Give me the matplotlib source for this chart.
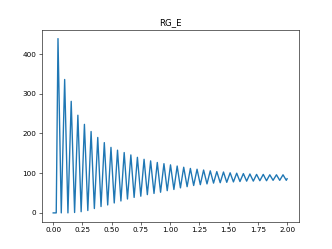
import numpy as np
import matplotlib
matplotlib.use("Agg")
import matplotlib.pyplot as plt

# flat start, then peaks and troughs of the oscillation
start_t = [0.0, 0.026]
start_v = [0.0, 0.0]

peak_t = [0.041, 0.098, 0.154, 0.211, 0.267, 0.324, 0.381, 0.437, 0.494, 0.550,
          0.607, 0.664, 0.720, 0.777, 0.833, 0.890, 0.947, 1.003, 1.060, 1.116,
          1.173, 1.230, 1.286, 1.343, 1.399, 1.456, 1.513, 1.569, 1.626, 1.682,
          1.739, 1.796, 1.852, 1.909, 1.965]
peak_v = [439, 336, 281, 246, 223, 205, 190, 177, 165, 158,
          152, 146, 140, 135, 131, 127, 124, 121, 118, 115,
          112, 110, 108, 106, 104, 103, 101, 100, 99, 98,
          97, 97, 96, 96, 96]

trough_t = [0.069, 0.126, 0.183, 0.239, 0.296, 0.352, 0.409, 0.466, 0.522, 0.579,
            0.635, 0.692, 0.749, 0.805, 0.862, 0.918, 0.975, 1.032, 1.088, 1.145,
            1.201, 1.258, 1.315, 1.371, 1.428, 1.484, 1.541, 1.597, 1.654, 1.711,
            1.767, 1.824, 1.880, 1.937, 1.993]
trough_v = [0, 0, 1, 3, 6, 11, 16, 20, 25, 30,
            35, 39, 42, 46, 49, 52, 56, 59, 63, 66,
            69, 71, 73, 75, 76, 77, 78, 79, 80, 80,
            81, 81, 82, 82, 82]

end_t = [2.0]
end_v = [86]

t = np.array(start_t + peak_t + trough_t + end_t)
v = np.array(start_v + peak_v + trough_v + end_v, dtype=float)
order = np.argsort(t)

fig = plt.figure(figsize=(6.4, 4.8))
plt.plot(t[order], v[order], linewidth=1.9)
plt.title('RG_E')
plt.savefig('out.png', dpi=332 / 6.4)
